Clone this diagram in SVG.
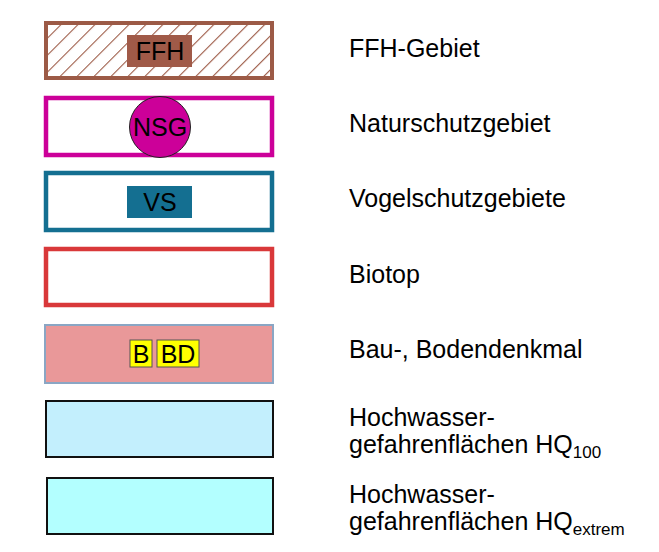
<svg xmlns="http://www.w3.org/2000/svg" width="659" height="552" viewBox="0 0 659 552">
<defs>
<pattern id="hatch" patternUnits="userSpaceOnUse" width="12" height="12" patternTransform="rotate(45)">
<line x1="0" y1="0" x2="0" y2="12" stroke="#9c5a46" stroke-width="2.2"/>
</pattern>
<style>
text{font-family:"Liberation Sans",Arial,sans-serif;fill:#000}
.lbl{font-size:25px}
.in{font-size:25px;text-anchor:middle}
.sub{font-size:17px}
</style>
</defs>
<rect width="659" height="552" fill="#fff"/>
<g id="ffh">
<rect x="46" y="23" width="226" height="55" fill="url(#hatch)" stroke="#9c5a46" stroke-width="4"/>
<rect x="127" y="35" width="65" height="32" fill="#a05a48"/>
<text class="in" x="160" y="60">FFH</text>
<text class="lbl" x="349" y="57">FFH-Gebiet</text>
</g>
<g id="nsg">
<rect x="46" y="98" width="226" height="57" fill="#fff" stroke="#cc0099" stroke-width="4.5"/>
<circle cx="160" cy="127" r="30.5" fill="#cc0099" stroke="#222" stroke-width="1"/>
<text class="in" x="160" y="136">NSG</text>
<text class="lbl" x="349" y="132">Naturschutzgebiet</text>
</g>
<g id="vs">
<rect x="46" y="173" width="226" height="57" fill="#fff" stroke="#146f91" stroke-width="4.5"/>
<rect x="127" y="186" width="65" height="32" fill="#146f91"/>
<text class="in" x="160" y="211">VS</text>
<text class="lbl" x="349" y="207">Vogelschutzgebiete</text>
</g>
<g id="biotop">
<rect x="46" y="249" width="226" height="56" fill="#fff" stroke="#d9383a" stroke-width="4.5"/>
<text class="lbl" x="349" y="283">Biotop</text>
</g>
<g id="denkmal">
<rect x="45" y="325" width="228" height="58" fill="#e99899" stroke="#8aa6c4" stroke-width="2"/>
<rect x="130" y="340" width="22" height="27" fill="#ffff00" stroke="#555" stroke-width="1"/>
<rect x="157" y="340" width="42" height="27" fill="#ffff00" stroke="#555" stroke-width="1"/>
<text class="in" x="141" y="363">B</text>
<text class="in" x="178" y="363">BD</text>
<text class="lbl" x="349" y="358">Bau-, Bodendenkmal</text>
</g>
<g id="hq100">
<rect x="46" y="401" width="227" height="56" fill="#c3effd" stroke="#111" stroke-width="2"/>
<text class="lbl" x="349" y="426">Hochwasser-</text>
<text class="lbl" x="349" y="453">gefahrenflächen HQ<tspan class="sub" dy="5">100</tspan></text>
</g>
<g id="hqextrem">
<rect x="47" y="478" width="226" height="56" fill="#b3ffff" stroke="#111" stroke-width="2"/>
<text class="lbl" x="349" y="503">Hochwasser-</text>
<text class="lbl" x="349" y="530">gefahrenflächen HQ<tspan class="sub" dy="5">extrem</tspan></text>
</g>
<g id="connectors"/>
</svg>
